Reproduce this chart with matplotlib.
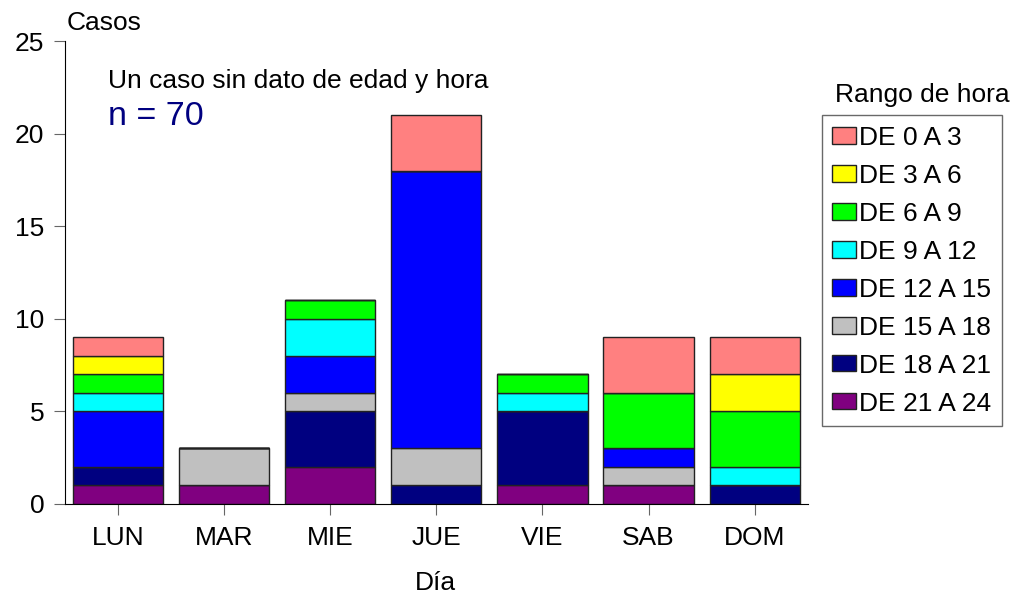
import matplotlib.pyplot as plt
import numpy as np

plt.rcParams['font.family'] = ['Liberation Sans', 'DejaVu Sans']

dias = ['LUN', 'MAR', 'MIE', 'JUE', 'VIE', 'SAB', 'DOM']

# cases per day for each hour range (bottom of stack first)
rangos = ['DE 21 A 24', 'DE 18 A 21', 'DE 15 A 18', 'DE 12 A 15',
          'DE 9 A 12', 'DE 6 A 9', 'DE 3 A 6', 'DE 0 A 3']
h21_24 = [1, 1, 2, 0, 1, 1, 0]
h18_21 = [1, 0, 3, 1, 4, 0, 1]
h15_18 = [0, 2, 1, 2, 0, 1, 0]
h12_15 = [3, 0, 2, 15, 0, 1, 0]
h9_12 = [1, 0, 2, 0, 1, 0, 1]
h6_9 = [1, 0, 1, 0, 1, 3, 3]
h3_6 = [1, 0, 0, 0, 0, 0, 2]
h0_3 = [1, 0, 0, 3, 0, 3, 2]
series = [h21_24, h18_21, h15_18, h12_15, h9_12, h6_9, h3_6, h0_3]
colores = ['#800080', '#000080', '#c0c0c0', '#0000ff',
           '#00ffff', '#00ff00', '#ffff00', '#ff8080']

fig = plt.figure(figsize=(10.16, 5.97), dpi=100)
ax = fig.add_axes([0.064, 0.156, 0.731, 0.775])

x = np.arange(len(dias))
bottom = np.zeros(len(dias))
handles = []
for vals, col, lab in zip(series, colores, rangos):
    b = ax.bar(x, vals, 0.85, bottom=bottom, color=col, edgecolor='#222222',
               linewidth=1, label=lab)
    handles.append(b)
    bottom += np.array(vals)

ax.set_xlim(-0.5, 6.5)
ax.set_ylim(0, 25)
ax.set_yticks([0, 5, 10, 15, 20, 25])
ax.set_xticks(x)
ax.set_xticklabels(dias)
ax.spines['top'].set_visible(False)
ax.spines['right'].set_visible(False)
ax.tick_params(axis='both', labelsize=19, direction='out', length=8,
               color='#666666')
ax.tick_params(axis='x', pad=8)
ax.tick_params(axis='y', pad=7)

fig.text(0.066, 0.95, 'Casos', fontsize=19, ha='left', va='baseline')
fig.text(0.429, 0.012, 'Día', fontsize=19, ha='center', va='baseline')

fig.text(0.1063, 0.8526, 'Un caso sin dato de edad y hora',
         fontsize=19, ha='left', va='baseline')
fig.text(0.1063, 0.7906, 'n = 70', fontsize=24.5, color='#000080',
         ha='left', va='baseline')

leg = ax.legend(handles[::-1], rangos[::-1], loc='upper left',
                bbox_to_anchor=(0.809, 0.807), bbox_transform=fig.transFigure,
                fontsize=19, frameon=True, fancybox=False, edgecolor='#444444',
                handlelength=0.9, handleheight=0.57, handletextpad=0.1,
                labelspacing=0.53, borderpad=0.4, borderaxespad=0)
leg.get_frame().set_linewidth(1)
fig.text(0.822, 0.829, 'Rango de hora', fontsize=19, ha='left', va='baseline')

fig.savefig('out.png', dpi=100)
